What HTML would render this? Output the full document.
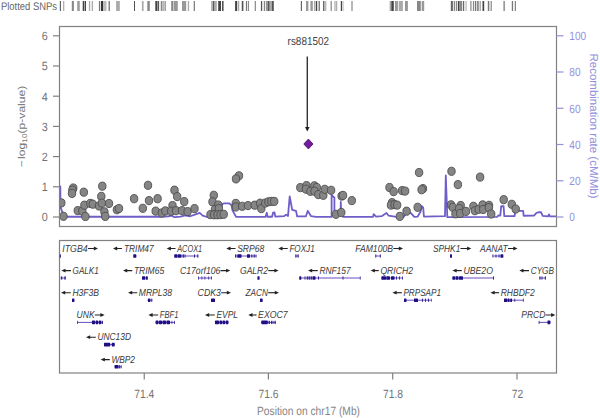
<!DOCTYPE html>
<html><head><meta charset="utf-8"><style>
html,body{margin:0;padding:0;background:#fff;width:600px;height:418px;overflow:hidden}
svg{display:block}
</style></head><body>
<svg width="600" height="418" viewBox="0 0 600 418" text-rendering="geometricPrecision" font-family='"Liberation Sans", sans-serif'><text x="1" y="10" font-size="11" fill="#666" textLength="56" lengthAdjust="spacingAndGlyphs" >Plotted SNPs</text>
<rect x="59.8" y="1" width="1.20" height="10" fill="#666"/>
<rect x="63.1" y="1" width="1.20" height="10" fill="#aaa"/>
<rect x="71.8" y="1" width="2.10" height="10" fill="#888"/>
<rect x="77.25" y="1" width="2.50" height="10" fill="#999"/>
<rect x="82.7" y="1" width="1.60" height="10" fill="#444"/>
<rect x="84.75" y="1" width="1.25" height="10" fill="#444"/>
<rect x="88.9" y="1" width="1.30" height="10" fill="#aaa"/>
<rect x="91.8" y="1" width="0.90" height="10" fill="#888"/>
<rect x="98.9" y="1" width="1.30" height="10" fill="#777"/>
<rect x="101" y="1" width="2.10" height="10" fill="#333"/>
<rect x="103.1" y="1" width="3.40" height="10" fill="#bbb"/>
<rect x="108.6" y="1" width="1.20" height="10" fill="#666"/>
<rect x="116.1" y="1" width="3.70" height="10" fill="#aaa"/>
<rect x="134" y="1" width="1.00" height="10" fill="#555"/>
<rect x="141.9" y="1" width="1.70" height="10" fill="#aaa"/>
<rect x="147.3" y="1" width="2.50" height="10" fill="#888"/>
<rect x="155.3" y="1" width="1.70" height="10" fill="#444"/>
<rect x="157.4" y="1" width="1.70" height="10" fill="#555"/>
<rect x="160.75" y="1" width="1.25" height="10" fill="#888"/>
<rect x="162.4" y="1" width="1.30" height="10" fill="#999"/>
<rect x="164.5" y="1" width="1.25" height="10" fill="#888"/>
<rect x="171.2" y="1" width="2.05" height="10" fill="#888"/>
<rect x="173.7" y="1" width="4.10" height="10" fill="#999"/>
<rect x="182" y="1" width="4.20" height="10" fill="#999"/>
<rect x="187.8" y="1" width="1.30" height="10" fill="#aaa"/>
<rect x="193.7" y="1" width="1.20" height="10" fill="#777"/>
<rect x="211" y="1" width="1.80" height="10" fill="#bbb"/>
<rect x="212.8" y="1" width="1.20" height="10" fill="#555"/>
<rect x="214" y="1" width="2.80" height="10" fill="#aaa"/>
<rect x="218.2" y="1" width="2.80" height="10" fill="#444"/>
<rect x="222" y="1" width="1.60" height="10" fill="#555"/>
<rect x="235.1" y="1" width="2.10" height="10" fill="#444"/>
<rect x="238" y="1" width="1.25" height="10" fill="#aaa"/>
<rect x="241.75" y="1" width="1.65" height="10" fill="#555"/>
<rect x="245.9" y="1" width="1.10" height="10" fill="#777"/>
<rect x="247.8" y="1" width="1.20" height="10" fill="#888"/>
<rect x="254.7" y="1" width="1.20" height="10" fill="#888"/>
<rect x="260.9" y="1" width="1.30" height="10" fill="#555"/>
<rect x="263.8" y="1" width="1.30" height="10" fill="#888"/>
<rect x="265.9" y="1" width="2.10" height="10" fill="#999"/>
<rect x="268" y="1" width="1.70" height="10" fill="#555"/>
<rect x="269.7" y="1" width="2.05" height="10" fill="#aaa"/>
<rect x="271.75" y="1" width="2.05" height="10" fill="#555"/>
<rect x="300.8" y="1" width="1.20" height="10" fill="#666"/>
<rect x="306" y="1" width="2.40" height="10" fill="#999"/>
<rect x="310.4" y="1" width="2.40" height="10" fill="#999"/>
<rect x="314" y="1" width="1.60" height="10" fill="#aaa"/>
<rect x="316" y="1" width="1.20" height="10" fill="#444"/>
<rect x="318.6" y="1" width="1.20" height="10" fill="#666"/>
<rect x="323.2" y="1" width="1.20" height="10" fill="#444"/>
<rect x="324.8" y="1" width="1.60" height="10" fill="#bbb"/>
<rect x="330.6" y="1" width="1.20" height="10" fill="#888"/>
<rect x="334.4" y="1" width="1.20" height="10" fill="#aaa"/>
<rect x="336.2" y="1" width="1.00" height="10" fill="#999"/>
<rect x="340.8" y="1" width="1.20" height="10" fill="#444"/>
<rect x="342.4" y="1" width="1.20" height="10" fill="#bbb"/>
<rect x="351.4" y="1" width="1.20" height="10" fill="#888"/>
<rect x="389.6" y="1" width="1.70" height="10" fill="#aaa"/>
<rect x="391.3" y="1" width="2.50" height="10" fill="#444"/>
<rect x="395" y="1" width="2.90" height="10" fill="#999"/>
<rect x="398.7" y="1" width="4.20" height="10" fill="#aaa"/>
<rect x="405" y="1" width="2.90" height="10" fill="#999"/>
<rect x="417" y="1" width="3.80" height="10" fill="#888"/>
<rect x="421.7" y="1" width="2.50" height="10" fill="#999"/>
<rect x="450.8" y="1" width="2.10" height="10" fill="#666"/>
<rect x="453.75" y="1" width="1.25" height="10" fill="#888"/>
<rect x="455.8" y="1" width="1.30" height="10" fill="#888"/>
<rect x="457.9" y="1" width="1.70" height="10" fill="#444"/>
<rect x="460" y="1" width="2.10" height="10" fill="#888"/>
<rect x="462.9" y="1" width="1.30" height="10" fill="#666"/>
<rect x="465.4" y="1" width="1.30" height="10" fill="#bbb"/>
<rect x="470" y="1" width="1.70" height="10" fill="#aaa"/>
<rect x="472.9" y="1" width="1.30" height="10" fill="#888"/>
<rect x="475" y="1" width="1.25" height="10" fill="#777"/>
<rect x="477" y="1" width="1.75" height="10" fill="#888"/>
<rect x="479.6" y="1" width="1.20" height="10" fill="#999"/>
<rect x="482.5" y="1" width="1.70" height="10" fill="#444"/>
<rect x="487.8" y="1" width="1.50" height="10" fill="#777"/>
<rect x="490.6" y="1" width="1.20" height="10" fill="#888"/>
<rect x="503.5" y="1" width="1.25" height="10" fill="#777"/>
<rect x="511.8" y="1" width="1.30" height="10" fill="#777"/>
<rect x="514.75" y="1" width="1.25" height="10" fill="#888"/>
<defs><clipPath id="pc"><rect x="59.5" y="26.5" width="497.0" height="200.0"/></clipPath></defs>
<g clip-path="url(#pc)">
<polyline transform="translate(0,0.35)" points="59.5,186 60.3,186 60.5,207 63,213.2 67,216.4 160,216.4 165.2,216.3 168.6,215.9 171.6,215.2 174.2,216.8 180.7,216.3 185,215 190.2,215.9 196.2,213.7 199.7,212.6 202.7,215.3 208,216.9 216,216.4 219,212 222.4,203.9 223.6,203 229.3,203 231.7,205.1 232.5,210 235.8,216 236.3,216.6 265.5,216.6 266.75,212.4 267.6,216.4 272.1,216.4 273.1,212.2 274.5,212 275.3,216.3 284.3,215.7 286.1,214.3 288,215.7 289.7,196.1 292.2,209.6 296,210.5 297.2,216.1 305.8,216.1 307.8,210.5 310.9,215.7 316,216.5 331.6,216.6 331.6,194.7 332.2,195.2 334.4,197.4 334.4,213 340.6,213 340.8,201.6 341.2,213 343,216.6 373,216.4 373.7,213.8 376,216.2 382,215.7 386.5,212.7 388.5,215.2 395,216.2 403.6,216.7 406.8,212.1 410.9,212.7 414.3,216.6 417.7,216.2 420.5,211.4 421.8,205.9 423.2,207.3 423.9,216.2 445,215.8 445.8,175.1 447.3,216.8 497,216.5 498.5,215 500.3,215.2 501.2,205.9 503.6,205.9 504.3,215.8 514.6,215.8 515.2,210.5 523.2,210.5 523.6,215.4 534,215.3 536.5,212.5 538.5,211.9 541,211.8 542.7,215.6 548,216 549,214 550,216 556.5,216" fill="none" stroke="#6e5ec9" stroke-width="1.8" stroke-linejoin="round"/>
<ellipse cx="61.3" cy="202.9" rx="3.7" ry="4.1" fill="#858585" stroke="#4d4d4d" stroke-width="0.9"/>
<ellipse cx="63.5" cy="216.3" rx="3.7" ry="4.1" fill="#858585" stroke="#4d4d4d" stroke-width="0.9"/>
<ellipse cx="73.25" cy="188" rx="3.7" ry="4.1" fill="#858585" stroke="#4d4d4d" stroke-width="0.9"/>
<ellipse cx="72.4" cy="190.1" rx="3.7" ry="4.1" fill="#858585" stroke="#4d4d4d" stroke-width="0.9"/>
<ellipse cx="72" cy="193.4" rx="3.7" ry="4.1" fill="#858585" stroke="#4d4d4d" stroke-width="0.9"/>
<ellipse cx="83.8" cy="192.2" rx="3.7" ry="4.1" fill="#858585" stroke="#4d4d4d" stroke-width="0.9"/>
<ellipse cx="102.3" cy="186.2" rx="3.7" ry="4.1" fill="#858585" stroke="#4d4d4d" stroke-width="0.9"/>
<ellipse cx="101.3" cy="196.4" rx="3.7" ry="4.1" fill="#858585" stroke="#4d4d4d" stroke-width="0.9"/>
<ellipse cx="77.75" cy="210.6" rx="3.7" ry="4.1" fill="#858585" stroke="#4d4d4d" stroke-width="0.9"/>
<ellipse cx="82.3" cy="211" rx="3.7" ry="4.1" fill="#858585" stroke="#4d4d4d" stroke-width="0.9"/>
<ellipse cx="84.4" cy="205.2" rx="3.7" ry="4.1" fill="#858585" stroke="#4d4d4d" stroke-width="0.9"/>
<ellipse cx="85.4" cy="216.5" rx="3.7" ry="4.1" fill="#858585" stroke="#4d4d4d" stroke-width="0.9"/>
<ellipse cx="90.3" cy="203.4" rx="3.7" ry="4.1" fill="#858585" stroke="#4d4d4d" stroke-width="0.9"/>
<ellipse cx="92.8" cy="204.2" rx="3.7" ry="4.1" fill="#858585" stroke="#4d4d4d" stroke-width="0.9"/>
<ellipse cx="99" cy="206" rx="3.7" ry="4.1" fill="#858585" stroke="#4d4d4d" stroke-width="0.9"/>
<ellipse cx="101.9" cy="203.1" rx="3.7" ry="4.1" fill="#858585" stroke="#4d4d4d" stroke-width="0.9"/>
<ellipse cx="109" cy="203.5" rx="3.7" ry="4.1" fill="#858585" stroke="#4d4d4d" stroke-width="0.9"/>
<ellipse cx="104.4" cy="211.8" rx="3.7" ry="4.1" fill="#858585" stroke="#4d4d4d" stroke-width="0.9"/>
<ellipse cx="105.25" cy="216.4" rx="3.7" ry="4.1" fill="#858585" stroke="#4d4d4d" stroke-width="0.9"/>
<ellipse cx="116.9" cy="209.75" rx="3.7" ry="4.1" fill="#858585" stroke="#4d4d4d" stroke-width="0.9"/>
<ellipse cx="119" cy="208.5" rx="3.7" ry="4.1" fill="#858585" stroke="#4d4d4d" stroke-width="0.9"/>
<ellipse cx="148" cy="185.3" rx="3.7" ry="4.1" fill="#858585" stroke="#4d4d4d" stroke-width="0.9"/>
<ellipse cx="134.1" cy="198.7" rx="3.7" ry="4.1" fill="#858585" stroke="#4d4d4d" stroke-width="0.9"/>
<ellipse cx="149" cy="200.6" rx="3.7" ry="4.1" fill="#858585" stroke="#4d4d4d" stroke-width="0.9"/>
<ellipse cx="157.6" cy="198.7" rx="3.7" ry="4.1" fill="#858585" stroke="#4d4d4d" stroke-width="0.9"/>
<ellipse cx="142.8" cy="208.3" rx="3.7" ry="4.1" fill="#858585" stroke="#4d4d4d" stroke-width="0.9"/>
<ellipse cx="155.7" cy="211.1" rx="3.7" ry="4.1" fill="#858585" stroke="#4d4d4d" stroke-width="0.9"/>
<ellipse cx="161.9" cy="213" rx="3.7" ry="4.1" fill="#858585" stroke="#4d4d4d" stroke-width="0.9"/>
<ellipse cx="165.3" cy="210.9" rx="3.7" ry="4.1" fill="#858585" stroke="#4d4d4d" stroke-width="0.9"/>
<ellipse cx="174.5" cy="190.2" rx="3.7" ry="4.1" fill="#858585" stroke="#4d4d4d" stroke-width="0.9"/>
<ellipse cx="177.2" cy="196.6" rx="3.7" ry="4.1" fill="#858585" stroke="#4d4d4d" stroke-width="0.9"/>
<ellipse cx="184.2" cy="201.6" rx="3.7" ry="4.1" fill="#858585" stroke="#4d4d4d" stroke-width="0.9"/>
<ellipse cx="172.5" cy="205.6" rx="3.7" ry="4.1" fill="#858585" stroke="#4d4d4d" stroke-width="0.9"/>
<ellipse cx="171.2" cy="211.2" rx="3.7" ry="4.1" fill="#858585" stroke="#4d4d4d" stroke-width="0.9"/>
<ellipse cx="176" cy="210.7" rx="3.7" ry="4.1" fill="#858585" stroke="#4d4d4d" stroke-width="0.9"/>
<ellipse cx="182" cy="210.7" rx="3.7" ry="4.1" fill="#858585" stroke="#4d4d4d" stroke-width="0.9"/>
<ellipse cx="187.6" cy="211.6" rx="3.7" ry="4.1" fill="#858585" stroke="#4d4d4d" stroke-width="0.9"/>
<ellipse cx="194.5" cy="208.6" rx="3.7" ry="4.1" fill="#858585" stroke="#4d4d4d" stroke-width="0.9"/>
<ellipse cx="213.8" cy="195.3" rx="3.7" ry="4.1" fill="#858585" stroke="#4d4d4d" stroke-width="0.9"/>
<ellipse cx="212.5" cy="201.8" rx="3.7" ry="4.1" fill="#858585" stroke="#4d4d4d" stroke-width="0.9"/>
<ellipse cx="218.3" cy="205" rx="3.7" ry="4.1" fill="#858585" stroke="#4d4d4d" stroke-width="0.9"/>
<ellipse cx="214.9" cy="209.6" rx="3.7" ry="4.1" fill="#858585" stroke="#4d4d4d" stroke-width="0.9"/>
<ellipse cx="218.9" cy="208.6" rx="3.7" ry="4.1" fill="#858585" stroke="#4d4d4d" stroke-width="0.9"/>
<ellipse cx="210.5" cy="214.6" rx="3.7" ry="4.1" fill="#858585" stroke="#4d4d4d" stroke-width="0.9"/>
<ellipse cx="214" cy="214.8" rx="3.7" ry="4.1" fill="#858585" stroke="#4d4d4d" stroke-width="0.9"/>
<ellipse cx="217.5" cy="214.8" rx="3.7" ry="4.1" fill="#858585" stroke="#4d4d4d" stroke-width="0.9"/>
<ellipse cx="220.6" cy="214.6" rx="3.7" ry="4.1" fill="#858585" stroke="#4d4d4d" stroke-width="0.9"/>
<ellipse cx="223.7" cy="214.3" rx="3.7" ry="4.1" fill="#858585" stroke="#4d4d4d" stroke-width="0.9"/>
<ellipse cx="239" cy="175.8" rx="3.7" ry="4.1" fill="#858585" stroke="#4d4d4d" stroke-width="0.9"/>
<ellipse cx="236" cy="178.9" rx="3.7" ry="4.1" fill="#858585" stroke="#4d4d4d" stroke-width="0.9"/>
<ellipse cx="235.8" cy="203.4" rx="3.7" ry="4.1" fill="#858585" stroke="#4d4d4d" stroke-width="0.9"/>
<ellipse cx="235.8" cy="207" rx="3.7" ry="4.1" fill="#858585" stroke="#4d4d4d" stroke-width="0.9"/>
<ellipse cx="242.2" cy="206.3" rx="3.7" ry="4.1" fill="#858585" stroke="#4d4d4d" stroke-width="0.9"/>
<ellipse cx="248" cy="205.6" rx="3.7" ry="4.1" fill="#858585" stroke="#4d4d4d" stroke-width="0.9"/>
<ellipse cx="254.7" cy="205.2" rx="3.7" ry="4.1" fill="#858585" stroke="#4d4d4d" stroke-width="0.9"/>
<ellipse cx="260.1" cy="203.2" rx="3.7" ry="4.1" fill="#858585" stroke="#4d4d4d" stroke-width="0.9"/>
<ellipse cx="261.3" cy="208.6" rx="3.7" ry="4.1" fill="#858585" stroke="#4d4d4d" stroke-width="0.9"/>
<ellipse cx="265.3" cy="203" rx="3.7" ry="4.1" fill="#858585" stroke="#4d4d4d" stroke-width="0.9"/>
<ellipse cx="268.4" cy="201.8" rx="3.7" ry="4.1" fill="#858585" stroke="#4d4d4d" stroke-width="0.9"/>
<ellipse cx="271.3" cy="201.4" rx="3.7" ry="4.1" fill="#858585" stroke="#4d4d4d" stroke-width="0.9"/>
<ellipse cx="274.2" cy="201.4" rx="3.7" ry="4.1" fill="#858585" stroke="#4d4d4d" stroke-width="0.9"/>
<ellipse cx="300.3" cy="187.6" rx="3.7" ry="4.1" fill="#858585" stroke="#4d4d4d" stroke-width="0.9"/>
<ellipse cx="306.5" cy="185.6" rx="3.7" ry="4.1" fill="#858585" stroke="#4d4d4d" stroke-width="0.9"/>
<ellipse cx="306" cy="189.2" rx="3.7" ry="4.1" fill="#858585" stroke="#4d4d4d" stroke-width="0.9"/>
<ellipse cx="310.4" cy="191.3" rx="3.7" ry="4.1" fill="#858585" stroke="#4d4d4d" stroke-width="0.9"/>
<ellipse cx="314.4" cy="185.8" rx="3.7" ry="4.1" fill="#858585" stroke="#4d4d4d" stroke-width="0.9"/>
<ellipse cx="316.8" cy="187.5" rx="3.7" ry="4.1" fill="#858585" stroke="#4d4d4d" stroke-width="0.9"/>
<ellipse cx="314.6" cy="191.2" rx="3.7" ry="4.1" fill="#858585" stroke="#4d4d4d" stroke-width="0.9"/>
<ellipse cx="318.3" cy="194.6" rx="3.7" ry="4.1" fill="#858585" stroke="#4d4d4d" stroke-width="0.9"/>
<ellipse cx="323.3" cy="195.3" rx="3.7" ry="4.1" fill="#858585" stroke="#4d4d4d" stroke-width="0.9"/>
<ellipse cx="324.8" cy="189.3" rx="3.7" ry="4.1" fill="#858585" stroke="#4d4d4d" stroke-width="0.9"/>
<ellipse cx="331.1" cy="190.3" rx="3.7" ry="4.1" fill="#858585" stroke="#4d4d4d" stroke-width="0.9"/>
<ellipse cx="341.6" cy="196.1" rx="3.7" ry="4.1" fill="#858585" stroke="#4d4d4d" stroke-width="0.9"/>
<ellipse cx="343" cy="195.4" rx="3.7" ry="4.1" fill="#858585" stroke="#4d4d4d" stroke-width="0.9"/>
<ellipse cx="351.8" cy="200.6" rx="3.7" ry="4.1" fill="#858585" stroke="#4d4d4d" stroke-width="0.9"/>
<ellipse cx="336" cy="214.3" rx="3.7" ry="4.1" fill="#858585" stroke="#4d4d4d" stroke-width="0.9"/>
<ellipse cx="341.3" cy="212.5" rx="3.7" ry="4.1" fill="#858585" stroke="#4d4d4d" stroke-width="0.9"/>
<ellipse cx="389.5" cy="187.5" rx="3.7" ry="4.1" fill="#858585" stroke="#4d4d4d" stroke-width="0.9"/>
<ellipse cx="393.6" cy="191.6" rx="3.7" ry="4.1" fill="#858585" stroke="#4d4d4d" stroke-width="0.9"/>
<ellipse cx="402.1" cy="190.6" rx="3.7" ry="4.1" fill="#858585" stroke="#4d4d4d" stroke-width="0.9"/>
<ellipse cx="405.1" cy="191.1" rx="3.7" ry="4.1" fill="#858585" stroke="#4d4d4d" stroke-width="0.9"/>
<ellipse cx="392.1" cy="202.6" rx="3.7" ry="4.1" fill="#858585" stroke="#4d4d4d" stroke-width="0.9"/>
<ellipse cx="391" cy="205.1" rx="3.7" ry="4.1" fill="#858585" stroke="#4d4d4d" stroke-width="0.9"/>
<ellipse cx="394.6" cy="204.6" rx="3.7" ry="4.1" fill="#858585" stroke="#4d4d4d" stroke-width="0.9"/>
<ellipse cx="397.1" cy="205.1" rx="3.7" ry="4.1" fill="#858585" stroke="#4d4d4d" stroke-width="0.9"/>
<ellipse cx="399.8" cy="216.4" rx="3.7" ry="4.1" fill="#858585" stroke="#4d4d4d" stroke-width="0.9"/>
<ellipse cx="406.6" cy="211.2" rx="3.7" ry="4.1" fill="#858585" stroke="#4d4d4d" stroke-width="0.9"/>
<ellipse cx="419.1" cy="172.5" rx="3.7" ry="4.1" fill="#858585" stroke="#4d4d4d" stroke-width="0.9"/>
<ellipse cx="423" cy="188.6" rx="3.7" ry="4.1" fill="#858585" stroke="#4d4d4d" stroke-width="0.9"/>
<ellipse cx="421.6" cy="189.7" rx="3.7" ry="4.1" fill="#858585" stroke="#4d4d4d" stroke-width="0.9"/>
<ellipse cx="417.7" cy="207.3" rx="3.7" ry="4.1" fill="#858585" stroke="#4d4d4d" stroke-width="0.9"/>
<ellipse cx="451.5" cy="171.3" rx="3.7" ry="4.1" fill="#858585" stroke="#4d4d4d" stroke-width="0.9"/>
<ellipse cx="457.9" cy="184.6" rx="3.7" ry="4.1" fill="#858585" stroke="#4d4d4d" stroke-width="0.9"/>
<ellipse cx="451" cy="204.8" rx="3.7" ry="4.1" fill="#858585" stroke="#4d4d4d" stroke-width="0.9"/>
<ellipse cx="452.8" cy="207.3" rx="3.7" ry="4.1" fill="#858585" stroke="#4d4d4d" stroke-width="0.9"/>
<ellipse cx="455.5" cy="213.8" rx="3.7" ry="4.1" fill="#858585" stroke="#4d4d4d" stroke-width="0.9"/>
<ellipse cx="460.7" cy="205.5" rx="3.7" ry="4.1" fill="#858585" stroke="#4d4d4d" stroke-width="0.9"/>
<ellipse cx="459.2" cy="208.6" rx="3.7" ry="4.1" fill="#858585" stroke="#4d4d4d" stroke-width="0.9"/>
<ellipse cx="460.2" cy="213.4" rx="3.7" ry="4.1" fill="#858585" stroke="#4d4d4d" stroke-width="0.9"/>
<ellipse cx="466" cy="211.4" rx="3.7" ry="4.1" fill="#858585" stroke="#4d4d4d" stroke-width="0.9"/>
<ellipse cx="473.4" cy="206.3" rx="3.7" ry="4.1" fill="#858585" stroke="#4d4d4d" stroke-width="0.9"/>
<ellipse cx="474.9" cy="210.7" rx="3.7" ry="4.1" fill="#858585" stroke="#4d4d4d" stroke-width="0.9"/>
<ellipse cx="478.7" cy="209.3" rx="3.7" ry="4.1" fill="#858585" stroke="#4d4d4d" stroke-width="0.9"/>
<ellipse cx="482.7" cy="204.9" rx="3.7" ry="4.1" fill="#858585" stroke="#4d4d4d" stroke-width="0.9"/>
<ellipse cx="483.2" cy="209.5" rx="3.7" ry="4.1" fill="#858585" stroke="#4d4d4d" stroke-width="0.9"/>
<ellipse cx="489" cy="205.3" rx="3.7" ry="4.1" fill="#858585" stroke="#4d4d4d" stroke-width="0.9"/>
<ellipse cx="488.9" cy="207.6" rx="3.7" ry="4.1" fill="#858585" stroke="#4d4d4d" stroke-width="0.9"/>
<ellipse cx="491.2" cy="214" rx="3.7" ry="4.1" fill="#858585" stroke="#4d4d4d" stroke-width="0.9"/>
<ellipse cx="480.1" cy="177.1" rx="3.7" ry="4.1" fill="#858585" stroke="#4d4d4d" stroke-width="0.9"/>
<ellipse cx="503.7" cy="199.7" rx="3.7" ry="4.1" fill="#858585" stroke="#4d4d4d" stroke-width="0.9"/>
<ellipse cx="511.8" cy="204.3" rx="3.7" ry="4.1" fill="#858585" stroke="#4d4d4d" stroke-width="0.9"/>
<ellipse cx="515.7" cy="209" rx="3.7" ry="4.1" fill="#858585" stroke="#4d4d4d" stroke-width="0.9"/>
</g>
<polygon points="308.4,139.1 313,144 308.4,148.9 303.8,144" fill="#701c9c" stroke="#3c0a60" stroke-width="0.8"/>
<line x1="307.3" y1="56.5" x2="307.3" y2="128" stroke="#333" stroke-width="1.4"/>
<polygon points="305,127 309.6,127 307.3,131.5" fill="#222"/>
<text x="287.6" y="44.9" font-size="11.5" fill="#444" textLength="41.4" lengthAdjust="spacingAndGlyphs" >rs881502</text>
<rect x="59.5" y="26.5" width="497.0" height="200.0" fill="none" stroke="#808080" stroke-width="1.2"/>
<line x1="53" y1="217.0" x2="59.5" y2="217.0" stroke="#808080" stroke-width="1.2"/>
<text transform="translate(47.8,221.4) scale(0.9,1)" font-size="12" fill="#737373" text-anchor="end">0</text>
<line x1="53" y1="186.8" x2="59.5" y2="186.8" stroke="#808080" stroke-width="1.2"/>
<text transform="translate(47.8,191.20000000000002) scale(0.9,1)" font-size="12" fill="#737373" text-anchor="end">1</text>
<line x1="53" y1="156.6" x2="59.5" y2="156.6" stroke="#808080" stroke-width="1.2"/>
<text transform="translate(47.8,161.0) scale(0.9,1)" font-size="12" fill="#737373" text-anchor="end">2</text>
<line x1="53" y1="126.4" x2="59.5" y2="126.4" stroke="#808080" stroke-width="1.2"/>
<text transform="translate(47.8,130.8) scale(0.9,1)" font-size="12" fill="#737373" text-anchor="end">3</text>
<line x1="53" y1="96.2" x2="59.5" y2="96.2" stroke="#808080" stroke-width="1.2"/>
<text transform="translate(47.8,100.60000000000001) scale(0.9,1)" font-size="12" fill="#737373" text-anchor="end">4</text>
<line x1="53" y1="66.0" x2="59.5" y2="66.0" stroke="#808080" stroke-width="1.2"/>
<text transform="translate(47.8,70.4) scale(0.9,1)" font-size="12" fill="#737373" text-anchor="end">5</text>
<line x1="53" y1="35.8" x2="59.5" y2="35.8" stroke="#808080" stroke-width="1.2"/>
<text transform="translate(47.8,40.20000000000001) scale(0.9,1)" font-size="12" fill="#737373" text-anchor="end">6</text>
<line x1="556.5" y1="217.0" x2="563.5" y2="217.0" stroke="#9490dc" stroke-width="1.2"/>
<text transform="translate(569.3,221.3) scale(0.84,1)" font-size="12" fill="#9490dc">0</text>
<line x1="556.5" y1="180.8" x2="563.5" y2="180.8" stroke="#9490dc" stroke-width="1.2"/>
<text transform="translate(569.3,185.06) scale(0.84,1)" font-size="12" fill="#9490dc">20</text>
<line x1="556.5" y1="144.5" x2="563.5" y2="144.5" stroke="#9490dc" stroke-width="1.2"/>
<text transform="translate(569.3,148.82) scale(0.84,1)" font-size="12" fill="#9490dc">40</text>
<line x1="556.5" y1="108.3" x2="563.5" y2="108.3" stroke="#9490dc" stroke-width="1.2"/>
<text transform="translate(569.3,112.58) scale(0.84,1)" font-size="12" fill="#9490dc">60</text>
<line x1="556.5" y1="72.0" x2="563.5" y2="72.0" stroke="#9490dc" stroke-width="1.2"/>
<text transform="translate(569.3,76.33999999999999) scale(0.84,1)" font-size="12" fill="#9490dc">80</text>
<line x1="556.5" y1="35.8" x2="563.5" y2="35.8" stroke="#9490dc" stroke-width="1.2"/>
<text transform="translate(569.3,40.09999999999998) scale(0.84,1)" font-size="12" fill="#9490dc">100</text>
<text transform="translate(24.8,167.2) rotate(-90) scale(1.05,0.87)" font-size="11.5" fill="#777">−<tspan dx="1.2">log</tspan><tspan font-size="8" dy="2.5">10</tspan><tspan dy="-2.5">(p-value)</tspan></text>
<text transform="translate(590.3,53.5) rotate(90)" font-size="11.5" fill="#9490dc" textLength="145" lengthAdjust="spacingAndGlyphs">Recombination rate (cM/Mb)</text>
<rect x="59.5" y="240.5" width="497.0" height="132.5" fill="none" stroke="#808080" stroke-width="1.2"/>
<defs><clipPath id="gc"><rect x="59.5" y="240.5" width="497.0" height="132.5"/></clipPath></defs>
<g clip-path="url(#gc)">
<text x="62.3" y="251.60000000000002" font-size="10.2" fill="#3a3a3a" textLength="25.4" lengthAdjust="spacingAndGlyphs" font-style="italic" >ITGB4</text>
<line x1="88" y1="248.5" x2="95.5" y2="248.5" stroke="#222" stroke-width="1.15"/>
<polygon points="93.8,246.6 98,248.5 93.8,250.4" fill="#222"/>
<rect x="59.5" y="254.2" width="1.30" height="3.6" rx="0.6" fill="#1e0f85"/>
<text x="123.9" y="251.60000000000002" font-size="10.2" fill="#3a3a3a" textLength="29.8" lengthAdjust="spacingAndGlyphs" font-style="italic" >TRIM47</text>
<line x1="115.5" y1="248.5" x2="122" y2="248.5" stroke="#222" stroke-width="1.15"/>
<polygon points="117.2,246.6 113,248.5 117.2,250.4" fill="#222"/>
<line x1="133.3" y1="256.0" x2="136.3" y2="256.0" stroke="#6a4cc4" stroke-width="1"/>
<rect x="133.3" y="254.2" width="3.00" height="3.6" rx="0.6" fill="#1e0f85"/>
<text x="177.2" y="251.60000000000002" font-size="10.2" fill="#3a3a3a" textLength="25.0" lengthAdjust="spacingAndGlyphs" font-style="italic" >ACOX1</text>
<line x1="169.2" y1="248.5" x2="175.5" y2="248.5" stroke="#222" stroke-width="1.15"/>
<polygon points="170.89999999999998,246.6 166.7,248.5 170.89999999999998,250.4" fill="#222"/>
<line x1="174.3" y1="256.0" x2="198.3" y2="256.0" stroke="#6a4cc4" stroke-width="1"/>
<rect x="174.3" y="254.2" width="3.20" height="3.6" rx="0.6" fill="#1e0f85"/>
<rect x="177.8" y="254.2" width="3.20" height="3.6" rx="0.6" fill="#1e0f85"/>
<rect x="181.5" y="254.4" width="1.00" height="3.2" fill="#3a2a9a"/>
<rect x="183" y="254.4" width="1.00" height="3.2" fill="#3a2a9a"/>
<rect x="184.5" y="254.4" width="1.00" height="3.2" fill="#3a2a9a"/>
<rect x="194" y="254.4" width="1.00" height="3.2" fill="#3a2a9a"/>
<rect x="197.2" y="254.4" width="1.10" height="3.2" fill="#3a2a9a"/>
<text x="237.2" y="251.60000000000002" font-size="10.2" fill="#3a3a3a" textLength="27.0" lengthAdjust="spacingAndGlyphs" font-style="italic" >SRP68</text>
<line x1="228.8" y1="248.5" x2="235.5" y2="248.5" stroke="#222" stroke-width="1.15"/>
<polygon points="230.5,246.6 226.3,248.5 230.5,250.4" fill="#222"/>
<line x1="235" y1="256.0" x2="256.7" y2="256.0" stroke="#6a4cc4" stroke-width="1"/>
<rect x="235" y="254.4" width="1.30" height="3.2" fill="#3a2a9a"/>
<rect x="237.3" y="254.2" width="4.20" height="3.6" rx="0.6" fill="#1e0f85"/>
<rect x="247" y="254.2" width="3.00" height="3.6" rx="0.6" fill="#1e0f85"/>
<rect x="251" y="254.4" width="0.80" height="3.2" fill="#3a2a9a"/>
<rect x="252.6" y="254.4" width="0.80" height="3.2" fill="#3a2a9a"/>
<rect x="254.2" y="254.4" width="0.80" height="3.2" fill="#3a2a9a"/>
<rect x="255.6" y="254.4" width="0.80" height="3.2" fill="#3a2a9a"/>
<text x="289.4" y="251.60000000000002" font-size="10.2" fill="#3a3a3a" textLength="25.3" lengthAdjust="spacingAndGlyphs" font-style="italic" >FOXJ1</text>
<line x1="280.8" y1="248.5" x2="287.7" y2="248.5" stroke="#222" stroke-width="1.15"/>
<polygon points="282.5,246.6 278.3,248.5 282.5,250.4" fill="#222"/>
<line x1="295.3" y1="256.0" x2="298.7" y2="256.0" stroke="#6a4cc4" stroke-width="1"/>
<rect x="295.3" y="254.4" width="1.20" height="3.2" fill="#3a2a9a"/>
<rect x="297.5" y="254.4" width="1.20" height="3.2" fill="#3a2a9a"/>
<text x="355.3" y="251.60000000000002" font-size="10.2" fill="#3a3a3a" textLength="37.7" lengthAdjust="spacingAndGlyphs" font-style="italic" >FAM100B</text>
<line x1="393.3" y1="248.5" x2="400.5" y2="248.5" stroke="#222" stroke-width="1.15"/>
<polygon points="398.8,246.6 403,248.5 398.8,250.4" fill="#222"/>
<line x1="375.3" y1="256.0" x2="380.8" y2="256.0" stroke="#6a4cc4" stroke-width="1"/>
<rect x="375.3" y="254.4" width="1.00" height="3.2" fill="#3a2a9a"/>
<rect x="379.8" y="254.4" width="1.00" height="3.2" fill="#3a2a9a"/>
<text x="433" y="251.60000000000002" font-size="10.2" fill="#3a3a3a" textLength="27.3" lengthAdjust="spacingAndGlyphs" font-style="italic" >SPHK1</text>
<line x1="460.5" y1="248.5" x2="468.8" y2="248.5" stroke="#222" stroke-width="1.15"/>
<polygon points="467.1,246.6 471.3,248.5 467.1,250.4" fill="#222"/>
<rect x="450" y="254.2" width="2.00" height="3.6" rx="0.6" fill="#1e0f85"/>
<text x="480" y="251.60000000000002" font-size="10.2" fill="#3a3a3a" textLength="27.8" lengthAdjust="spacingAndGlyphs" font-style="italic" >AANAT</text>
<line x1="508" y1="248.5" x2="515.0" y2="248.5" stroke="#222" stroke-width="1.15"/>
<polygon points="513.3,246.6 517.5,248.5 513.3,250.4" fill="#222"/>
<line x1="492.5" y1="256.0" x2="503.3" y2="256.0" stroke="#6a4cc4" stroke-width="1"/>
<rect x="492.5" y="254.4" width="0.80" height="3.2" fill="#3a2a9a"/>
<rect x="495.5" y="254.4" width="1.00" height="3.2" fill="#3a2a9a"/>
<rect x="498.5" y="254.4" width="1.00" height="3.2" fill="#3a2a9a"/>
<rect x="500.5" y="254.2" width="2.80" height="3.6" rx="0.6" fill="#1e0f85"/>
<text x="72.6" y="273.7" font-size="10.2" fill="#3a3a3a" textLength="26.1" lengthAdjust="spacingAndGlyphs" font-style="italic" >GALK1</text>
<line x1="63.8" y1="270.59999999999997" x2="71" y2="270.59999999999997" stroke="#222" stroke-width="1.15"/>
<polygon points="65.5,268.7 61.3,270.59999999999997 65.5,272.49999999999994" fill="#222"/>
<line x1="60.8" y1="278.0" x2="65.8" y2="278.0" stroke="#6a4cc4" stroke-width="1"/>
<rect x="60.8" y="276.4" width="1.50" height="3.2" fill="#3a2a9a"/>
<rect x="64.3" y="276.4" width="1.50" height="3.2" fill="#3a2a9a"/>
<text x="133.9" y="273.7" font-size="10.2" fill="#3a3a3a" textLength="30.3" lengthAdjust="spacingAndGlyphs" font-style="italic" >TRIM65</text>
<line x1="125.5" y1="270.59999999999997" x2="132.3" y2="270.59999999999997" stroke="#222" stroke-width="1.15"/>
<polygon points="127.2,268.7 123,270.59999999999997 127.2,272.49999999999994" fill="#222"/>
<line x1="142" y1="278.0" x2="147.8" y2="278.0" stroke="#6a4cc4" stroke-width="1"/>
<rect x="142" y="276.2" width="3.30" height="3.6" rx="0.6" fill="#1e0f85"/>
<rect x="146" y="276.2" width="1.80" height="3.6" rx="0.6" fill="#1e0f85"/>
<text x="180" y="273.7" font-size="10.2" fill="#3a3a3a" textLength="40.3" lengthAdjust="spacingAndGlyphs" font-style="italic" >C17orf106</text>
<line x1="220.5" y1="270.59999999999997" x2="227.8" y2="270.59999999999997" stroke="#222" stroke-width="1.15"/>
<polygon points="226.10000000000002,268.7 230.3,270.59999999999997 226.10000000000002,272.49999999999994" fill="#222"/>
<line x1="198" y1="278.0" x2="212" y2="278.0" stroke="#6a4cc4" stroke-width="1"/>
<rect x="198" y="276.4" width="0.80" height="3.2" fill="#3a2a9a"/>
<rect x="201.5" y="276.4" width="0.80" height="3.2" fill="#3a2a9a"/>
<rect x="204.5" y="276.4" width="0.80" height="3.2" fill="#3a2a9a"/>
<rect x="208.3" y="276.4" width="0.80" height="3.2" fill="#3a2a9a"/>
<rect x="211.2" y="276.4" width="0.80" height="3.2" fill="#3a2a9a"/>
<text x="240" y="273.7" font-size="10.2" fill="#3a3a3a" textLength="28" lengthAdjust="spacingAndGlyphs" font-style="italic" >GALR2</text>
<line x1="268.3" y1="270.59999999999997" x2="276.1" y2="270.59999999999997" stroke="#222" stroke-width="1.15"/>
<polygon points="274.40000000000003,268.7 278.6,270.59999999999997 274.40000000000003,272.49999999999994" fill="#222"/>
<rect x="257.4" y="276.2" width="2.20" height="3.6" rx="0.6" fill="#1e0f85"/>
<text x="319.4" y="273.7" font-size="10.2" fill="#3a3a3a" textLength="31.2" lengthAdjust="spacingAndGlyphs" font-style="italic" >RNF157</text>
<line x1="310.5" y1="270.59999999999997" x2="317.8" y2="270.59999999999997" stroke="#222" stroke-width="1.15"/>
<polygon points="312.2,268.7 308,270.59999999999997 312.2,272.49999999999994" fill="#222"/>
<line x1="299" y1="278.0" x2="360.6" y2="278.0" stroke="#6a4cc4" stroke-width="1"/>
<rect x="299.25" y="276.2" width="2.05" height="3.6" rx="0.6" fill="#1e0f85"/>
<rect x="304.5" y="276.4" width="1.00" height="3.2" fill="#3a2a9a"/>
<rect x="306.7" y="276.4" width="1.30" height="3.2" fill="#3a2a9a"/>
<rect x="308.5" y="276.4" width="1.50" height="3.2" fill="#3a2a9a"/>
<rect x="310.5" y="276.4" width="1.50" height="3.2" fill="#3a2a9a"/>
<rect x="312.5" y="276.2" width="3.00" height="3.6" rx="0.6" fill="#1e0f85"/>
<rect x="318" y="276.4" width="1.00" height="3.2" fill="#3a2a9a"/>
<rect x="342.5" y="276.4" width="1.00" height="3.2" fill="#3a2a9a"/>
<rect x="359.8" y="276.4" width="0.80" height="3.2" fill="#3a2a9a"/>
<text x="380.4" y="273.7" font-size="10.2" fill="#3a3a3a" textLength="32.6" lengthAdjust="spacingAndGlyphs" font-style="italic" >QRICH2</text>
<line x1="373.1" y1="270.59999999999997" x2="378.8" y2="270.59999999999997" stroke="#222" stroke-width="1.15"/>
<polygon points="374.8,268.7 370.6,270.59999999999997 374.8,272.49999999999994" fill="#222"/>
<line x1="381.4" y1="278.0" x2="403" y2="278.0" stroke="#6a4cc4" stroke-width="1"/>
<rect x="381.4" y="276.2" width="4.60" height="3.6" rx="0.6" fill="#1e0f85"/>
<rect x="386.3" y="276.2" width="3.70" height="3.6" rx="0.6" fill="#1e0f85"/>
<rect x="391" y="276.2" width="3.50" height="3.6" rx="0.6" fill="#1e0f85"/>
<rect x="396" y="276.4" width="1.00" height="3.2" fill="#3a2a9a"/>
<rect x="399" y="276.4" width="1.00" height="3.2" fill="#3a2a9a"/>
<rect x="402.2" y="276.4" width="0.80" height="3.2" fill="#3a2a9a"/>
<text x="463.4" y="273.7" font-size="10.2" fill="#3a3a3a" textLength="29.6" lengthAdjust="spacingAndGlyphs" font-style="italic" >UBE2O</text>
<line x1="454.9" y1="270.59999999999997" x2="461.8" y2="270.59999999999997" stroke="#222" stroke-width="1.15"/>
<polygon points="456.59999999999997,268.7 452.4,270.59999999999997 456.59999999999997,272.49999999999994" fill="#222"/>
<line x1="452.4" y1="278.0" x2="494" y2="278.0" stroke="#6a4cc4" stroke-width="1"/>
<rect x="452.4" y="276.2" width="2.60" height="3.6" rx="0.6" fill="#1e0f85"/>
<rect x="455.5" y="276.2" width="3.00" height="3.6" rx="0.6" fill="#1e0f85"/>
<rect x="459" y="276.2" width="4.00" height="3.6" rx="0.6" fill="#1e0f85"/>
<rect x="493" y="276.4" width="1.00" height="3.2" fill="#3a2a9a"/>
<text x="530.7" y="273.7" font-size="10.2" fill="#3a3a3a" textLength="23.3" lengthAdjust="spacingAndGlyphs" font-style="italic" >CYGB</text>
<line x1="521.8" y1="270.59999999999997" x2="529" y2="270.59999999999997" stroke="#222" stroke-width="1.15"/>
<polygon points="523.5,268.7 519.3,270.59999999999997 523.5,272.49999999999994" fill="#222"/>
<line x1="539.3" y1="278.0" x2="546" y2="278.0" stroke="#6a4cc4" stroke-width="1"/>
<rect x="539.3" y="276.4" width="1.20" height="3.2" fill="#3a2a9a"/>
<rect x="541.5" y="276.4" width="1.00" height="3.2" fill="#3a2a9a"/>
<rect x="544.8" y="276.4" width="1.20" height="3.2" fill="#3a2a9a"/>
<text x="72.4" y="295.8" font-size="10.2" fill="#3a3a3a" textLength="26.6" lengthAdjust="spacingAndGlyphs" font-style="italic" >H3F3B</text>
<line x1="63.5" y1="292.7" x2="70.8" y2="292.7" stroke="#222" stroke-width="1.15"/>
<polygon points="65.2,290.8 61,292.7 65.2,294.59999999999997" fill="#222"/>
<line x1="72" y1="300.2" x2="74.4" y2="300.2" stroke="#6a4cc4" stroke-width="1"/>
<rect x="72" y="298.4" width="2.40" height="3.6" rx="0.6" fill="#1e0f85"/>
<text x="138.8" y="295.8" font-size="10.2" fill="#3a3a3a" textLength="33.2" lengthAdjust="spacingAndGlyphs" font-style="italic" >MRPL38</text>
<line x1="130.5" y1="292.7" x2="137.2" y2="292.7" stroke="#222" stroke-width="1.15"/>
<polygon points="132.2,290.8 128,292.7 132.2,294.59999999999997" fill="#222"/>
<line x1="147.4" y1="300.2" x2="152.6" y2="300.2" stroke="#6a4cc4" stroke-width="1"/>
<rect x="148" y="298.4" width="2.40" height="3.6" rx="0.6" fill="#1e0f85"/>
<rect x="151.2" y="298.59999999999997" width="1.00" height="3.2" fill="#3a2a9a"/>
<text x="197.6" y="295.8" font-size="10.2" fill="#3a3a3a" textLength="23.4" lengthAdjust="spacingAndGlyphs" font-style="italic" >CDK3</text>
<line x1="221.2" y1="292.7" x2="228.5" y2="292.7" stroke="#222" stroke-width="1.15"/>
<polygon points="226.8,290.8 231,292.7 226.8,294.59999999999997" fill="#222"/>
<line x1="211" y1="300.2" x2="215" y2="300.2" stroke="#6a4cc4" stroke-width="1"/>
<rect x="211" y="298.4" width="4.00" height="3.6" rx="0.6" fill="#1e0f85"/>
<text x="245.6" y="295.8" font-size="10.2" fill="#3a3a3a" textLength="22.4" lengthAdjust="spacingAndGlyphs" font-style="italic" >ZACN</text>
<line x1="268.2" y1="292.7" x2="276.5" y2="292.7" stroke="#222" stroke-width="1.15"/>
<polygon points="274.8,290.8 279,292.7 274.8,294.59999999999997" fill="#222"/>
<line x1="260" y1="300.2" x2="262.6" y2="300.2" stroke="#6a4cc4" stroke-width="1"/>
<rect x="260" y="298.4" width="2.60" height="3.6" rx="0.6" fill="#1e0f85"/>
<text x="403.4" y="295.8" font-size="10.2" fill="#3a3a3a" textLength="37.6" lengthAdjust="spacingAndGlyphs" font-style="italic" >PRPSAP1</text>
<line x1="394.9" y1="292.7" x2="401.8" y2="292.7" stroke="#222" stroke-width="1.15"/>
<polygon points="396.59999999999997,290.8 392.4,292.7 396.59999999999997,294.59999999999997" fill="#222"/>
<line x1="404" y1="300.2" x2="431.6" y2="300.2" stroke="#6a4cc4" stroke-width="1"/>
<rect x="404" y="298.4" width="2.50" height="3.6" rx="0.6" fill="#1e0f85"/>
<rect x="414" y="298.4" width="4.00" height="3.6" rx="0.6" fill="#1e0f85"/>
<rect x="422" y="298.59999999999997" width="1.00" height="3.2" fill="#3a2a9a"/>
<rect x="425" y="298.59999999999997" width="1.00" height="3.2" fill="#3a2a9a"/>
<rect x="428" y="298.59999999999997" width="1.00" height="3.2" fill="#3a2a9a"/>
<rect x="431" y="298.59999999999997" width="0.60" height="3.2" fill="#3a2a9a"/>
<text x="500.7" y="295.8" font-size="10.2" fill="#3a3a3a" textLength="34.0" lengthAdjust="spacingAndGlyphs" font-style="italic" >RHBDF2</text>
<line x1="492.9" y1="292.7" x2="499" y2="292.7" stroke="#222" stroke-width="1.15"/>
<polygon points="494.59999999999997,290.8 490.4,292.7 494.59999999999997,294.59999999999997" fill="#222"/>
<line x1="504" y1="300.2" x2="523.7" y2="300.2" stroke="#6a4cc4" stroke-width="1"/>
<rect x="504" y="298.4" width="3.50" height="3.6" rx="0.6" fill="#1e0f85"/>
<rect x="507.8" y="298.4" width="1.80" height="3.6" rx="0.6" fill="#1e0f85"/>
<rect x="510.2" y="298.4" width="1.80" height="3.6" rx="0.6" fill="#1e0f85"/>
<rect x="514.3" y="298.59999999999997" width="0.90" height="3.2" fill="#3a2a9a"/>
<rect x="522.9" y="298.59999999999997" width="0.80" height="3.2" fill="#3a2a9a"/>
<text x="76.6" y="318.1" font-size="10.2" fill="#3a3a3a" textLength="18.0" lengthAdjust="spacingAndGlyphs" font-style="italic" >UNK</text>
<line x1="94.8" y1="315.0" x2="102.1" y2="315.0" stroke="#222" stroke-width="1.15"/>
<polygon points="100.39999999999999,313.1 104.6,315.0 100.39999999999999,316.9" fill="#222"/>
<line x1="77" y1="322.4" x2="103" y2="322.4" stroke="#6a4cc4" stroke-width="1"/>
<rect x="77" y="320.79999999999995" width="0.80" height="3.2" fill="#3a2a9a"/>
<rect x="92" y="320.59999999999997" width="3.00" height="3.6" rx="0.6" fill="#1e0f85"/>
<rect x="95.6" y="320.59999999999997" width="2.60" height="3.6" rx="0.6" fill="#1e0f85"/>
<rect x="98.8" y="320.59999999999997" width="2.20" height="3.6" rx="0.6" fill="#1e0f85"/>
<rect x="101.5" y="320.79999999999995" width="1.50" height="3.2" fill="#3a2a9a"/>
<text x="159.8" y="318.1" font-size="10.2" fill="#3a3a3a" textLength="18.6" lengthAdjust="spacingAndGlyphs" font-style="italic" >FBF1</text>
<line x1="150.9" y1="315.0" x2="158.2" y2="315.0" stroke="#222" stroke-width="1.15"/>
<polygon points="152.6,313.1 148.4,315.0 152.6,316.9" fill="#222"/>
<line x1="155.6" y1="322.4" x2="175" y2="322.4" stroke="#6a4cc4" stroke-width="1"/>
<rect x="155.6" y="320.59999999999997" width="2.90" height="3.6" rx="0.6" fill="#1e0f85"/>
<rect x="159" y="320.59999999999997" width="3.00" height="3.6" rx="0.6" fill="#1e0f85"/>
<rect x="162.5" y="320.59999999999997" width="3.50" height="3.6" rx="0.6" fill="#1e0f85"/>
<rect x="166.5" y="320.59999999999997" width="3.50" height="3.6" rx="0.6" fill="#1e0f85"/>
<rect x="171.5" y="320.79999999999995" width="0.80" height="3.2" fill="#3a2a9a"/>
<rect x="174.2" y="320.79999999999995" width="0.80" height="3.2" fill="#3a2a9a"/>
<text x="216.4" y="318.1" font-size="10.2" fill="#3a3a3a" textLength="21.6" lengthAdjust="spacingAndGlyphs" font-style="italic" >EVPL</text>
<line x1="207.5" y1="315.0" x2="214.8" y2="315.0" stroke="#222" stroke-width="1.15"/>
<polygon points="209.2,313.1 205,315.0 209.2,316.9" fill="#222"/>
<line x1="215" y1="322.4" x2="228.4" y2="322.4" stroke="#6a4cc4" stroke-width="1"/>
<rect x="215" y="320.59999999999997" width="4.00" height="3.6" rx="0.6" fill="#1e0f85"/>
<rect x="219.5" y="320.59999999999997" width="2.50" height="3.6" rx="0.6" fill="#1e0f85"/>
<rect x="222.5" y="320.59999999999997" width="2.50" height="3.6" rx="0.6" fill="#1e0f85"/>
<rect x="225.6" y="320.59999999999997" width="2.80" height="3.6" rx="0.6" fill="#1e0f85"/>
<text x="258.1" y="318.1" font-size="10.2" fill="#3a3a3a" textLength="29.6" lengthAdjust="spacingAndGlyphs" font-style="italic" >EXOC7</text>
<line x1="250.8" y1="315.0" x2="256.5" y2="315.0" stroke="#222" stroke-width="1.15"/>
<polygon points="252.5,313.1 248.3,315.0 252.5,316.9" fill="#222"/>
<line x1="261.3" y1="322.4" x2="276" y2="322.4" stroke="#6a4cc4" stroke-width="1"/>
<rect x="261.3" y="320.59999999999997" width="6.50" height="3.6" rx="0.6" fill="#1e0f85"/>
<rect x="268.5" y="320.79999999999995" width="1.50" height="3.2" fill="#3a2a9a"/>
<rect x="271" y="320.79999999999995" width="1.50" height="3.2" fill="#3a2a9a"/>
<rect x="273.5" y="320.79999999999995" width="1.00" height="3.2" fill="#3a2a9a"/>
<rect x="275.2" y="320.79999999999995" width="0.80" height="3.2" fill="#3a2a9a"/>
<text x="521.3" y="318.1" font-size="10.2" fill="#3a3a3a" textLength="24.0" lengthAdjust="spacingAndGlyphs" font-style="italic" >PRCD</text>
<line x1="545.5" y1="315.0" x2="552.8" y2="315.0" stroke="#222" stroke-width="1.15"/>
<polygon points="551.0999999999999,313.1 555.3,315.0 551.0999999999999,316.9" fill="#222"/>
<line x1="538.7" y1="322.4" x2="550.4" y2="322.4" stroke="#6a4cc4" stroke-width="1"/>
<rect x="538.7" y="320.79999999999995" width="0.80" height="3.2" fill="#3a2a9a"/>
<rect x="547.5" y="320.59999999999997" width="2.90" height="3.6" rx="0.6" fill="#1e0f85"/>
<text x="97.4" y="340.3" font-size="10.2" fill="#3a3a3a" textLength="33.6" lengthAdjust="spacingAndGlyphs" font-style="italic" >UNC13D</text>
<line x1="88.5" y1="337.2" x2="95.8" y2="337.2" stroke="#222" stroke-width="1.15"/>
<polygon points="90.2,335.3 86,337.2 90.2,339.09999999999997" fill="#222"/>
<line x1="104" y1="344.6" x2="114.6" y2="344.6" stroke="#6a4cc4" stroke-width="1"/>
<rect x="104" y="342.8" width="6.20" height="3.6" rx="0.6" fill="#1e0f85"/>
<rect x="111.7" y="342.8" width="3.00" height="3.6" rx="0.6" fill="#1e0f85"/>
<text x="111.4" y="362.7" font-size="10.2" fill="#3a3a3a" textLength="23.6" lengthAdjust="spacingAndGlyphs" font-style="italic" >WBP2</text>
<line x1="103.1" y1="359.59999999999997" x2="109.8" y2="359.59999999999997" stroke="#222" stroke-width="1.15"/>
<polygon points="104.8,357.7 100.6,359.59999999999997 104.8,361.49999999999994" fill="#222"/>
<line x1="114.6" y1="366.8" x2="121.6" y2="366.8" stroke="#6a4cc4" stroke-width="1"/>
<rect x="114.6" y="365.0" width="3.90" height="3.6" rx="0.6" fill="#1e0f85"/>
<rect x="119" y="365.2" width="1.00" height="3.2" fill="#3a2a9a"/>
<rect x="120.6" y="365.2" width="1.00" height="3.2" fill="#3a2a9a"/>
</g>
<line x1="144.25" y1="373" x2="144.25" y2="379.5" stroke="#808080" stroke-width="1.2"/>
<text transform="translate(144.2,398) scale(0.86,1)" font-size="12" fill="#727272" text-anchor="middle">71.4</text>
<line x1="268.4" y1="373" x2="268.4" y2="379.5" stroke="#808080" stroke-width="1.2"/>
<text transform="translate(268.5,398) scale(0.86,1)" font-size="12" fill="#727272" text-anchor="middle">71.6</text>
<line x1="392.7" y1="373" x2="392.7" y2="379.5" stroke="#808080" stroke-width="1.2"/>
<text transform="translate(393,398) scale(0.86,1)" font-size="12" fill="#727272" text-anchor="middle">71.8</text>
<line x1="517" y1="373" x2="517" y2="379.5" stroke="#808080" stroke-width="1.2"/>
<text transform="translate(517.5,398) scale(0.86,1)" font-size="12" fill="#727272" text-anchor="middle">72</text>
<text x="257" y="415" font-size="12" fill="#858585" textLength="103" lengthAdjust="spacingAndGlyphs" >Position on chr17 (Mb)</text></svg>
</body></html>
